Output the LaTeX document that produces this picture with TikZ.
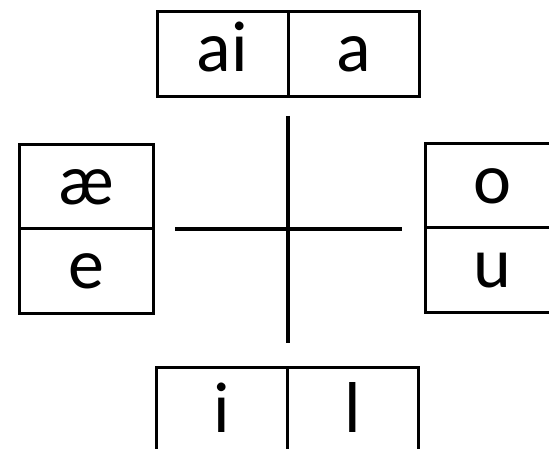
\documentclass[tikz,border=0pt]{standalone}
\usepackage{fontspec}
\setmainfont{Carlito}
\usepackage{tikz}
\usetikzlibrary{positioning}
\tikzstyle{cell} = [rectangle, draw=black, line width=3pt, outer sep=0pt, inner sep=0pt, minimum width=131pt, minimum height=85pt, text height=50pt, text depth=15pt, font=\fontsize{72}{80}\selectfont]
\tikzstyle{sidecell} = [cell, minimum width=134pt, minimum height=84pt]
\tikzstyle{axis} = [line width=4pt]

\begin{document}
\begin{tikzpicture}[x=1pt, y=-1pt]
    \clip (0,0) rectangle (549,449);

    % Top pair
    \node (ai) [cell] at (222.5,54.5) {ai};
    \node (a) [cell, right=0pt of ai] {a};

    % Left pair
    \node (ae) [sidecell] at (86,187) {æ};
    \node (e) [sidecell, below=0pt of ae] {e};

    % Right pair
    \node (o) [sidecell] at (492,186) {o};
    \node (u) [sidecell, below=0pt of o] {u};

    % Bottom pair
    \node (i) [cell, minimum height=95pt] at (222,414.5) {i};
    \node (l) [cell, minimum height=95pt, right=0pt of i] {l};

    % Cross
    \coordinate (nend) at (288,116);
    \coordinate (send) at (288,343);
    \coordinate (wend) at (175,229);
    \coordinate (eend) at (402,229);
    \draw [axis] (nend) -- (send);
    \draw [axis] (wend) -- (eend);
\end{tikzpicture}
\end{document}
